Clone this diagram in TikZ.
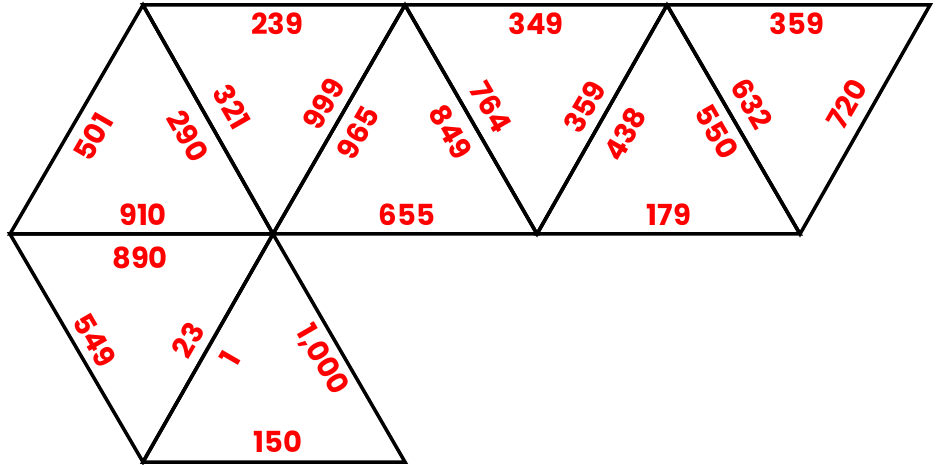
\documentclass[tikz,border=0pt]{standalone}
\usepackage{fontspec}
\setmainfont{Poppins}
\begin{document}
\begin{tikzpicture}[x=1pt, y=-1pt, line width=3.5pt,
  num/.style={text=red, font=\bfseries\fontsize{29}{31}\selectfont, inner sep=0pt},
  up/.style={num, rotate=60},
  dn/.style={num, rotate=-60}]
\useasboundingbox (0,0) rectangle (938,465);
% corners of the net
\coordinate (t0) at (143,5);
\coordinate (t1) at (405,5);
\coordinate (t2) at (667,5);
\coordinate (t3) at (930,5);
\coordinate (m0) at (10,234);
\coordinate (m1) at (273,234);
\coordinate (m2) at (537,234);
\coordinate (m3) at (800,234);
\coordinate (b0) at (143,462);
\coordinate (b1) at (405,462);
% triangles
\draw (m0) -- (t0) -- (m1) -- cycle;
\draw (t0) -- (t1) -- (m1) -- cycle;
\draw (m1) -- (t1) -- (m2) -- cycle;
\draw (t1) -- (t2) -- (m2) -- cycle;
\draw (m2) -- (t2) -- (m3) -- cycle;
\draw (t2) -- (t3) -- (m3) -- cycle;
\draw (m0) -- (m1) -- (b0) -- cycle;
\draw (b0) -- (m1) -- (b1) -- cycle;
% numbers on the edges
\node[num] (n239) at (277,24) {239};
\node[num] (n910) at (143,215) {910};
\node[up] (n501) at (93,137) {501};
\node[dn] (n290) at (188,136) {290};
\node[dn] (n321) at (232,107) {321};
\node[up] (n999) at (324,104) {999};
\node[up] (n965) at (358,133) {965};
\node[dn] (n849) at (451,132) {849};
\node[dn] (n764) at (491,107) {764};
\node[num] (n349) at (536,24) {349};
\node[num] (n655) at (407,215) {655};
\node[up] (n359a) at (585,107) {359};
\node[up] (n438) at (625,134) {438};
\node[dn] (n550) at (717,132) {550};
\node[dn] (n632) at (752,104) {632};
\node[num] (n359b) at (797,24) {359};
\node[up] (n720) at (847,104) {720};
\node[num] (n179) at (669,215) {179};
\node[num] (n890) at (140,258) {890};
\node[dn] (n549) at (95,340) {549};
\node[up] (n23) at (188,340) {23};
\node[up] (n1) at (230,358) {1};
\node[dn] (n1000) at (322,360) {1,000};
\node[num] (n150) at (278,442) {150};
\end{tikzpicture}
\end{document}
